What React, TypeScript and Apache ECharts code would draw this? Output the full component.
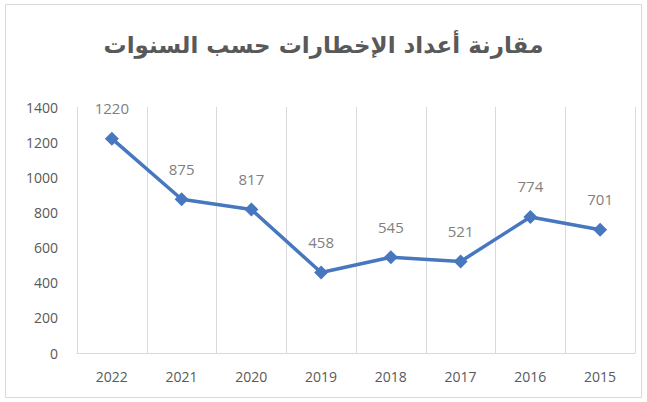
import React, { useEffect, useRef } from "react";
import * as echarts from "echarts";

const titleText = "مقارنة أعداد الإخطارات حسب السنوات";
const years = ["2022", "2021", "2020", "2019", "2018", "2017", "2016", "2015"];
const counts = [1220, 875, 817, 458, 545, 521, 774, 701];
const yMin = 0;
const yMax = 1400;
const yStep = 200;

export default function App() {
  const ref = useRef<HTMLDivElement>(null);
  useEffect(() => {
    document.body.style.margin = "0";
    const chart = echarts.init(ref.current!, null, { renderer: "svg" });
    chart.setOption({
      animation: false,
      backgroundColor: "#ffffff",
      title: {
        text: titleText,
        left: "center",
        top: 28,
        textStyle: {
          fontFamily: "DejaVu Sans",
          fontSize: 23,
          fontWeight: "bold",
          color: "#595959",
        },
      },
      graphic: [
        {
          type: "rect",
          shape: { x: 5.5, y: 4.5, width: 636, height: 393 },
          style: { fill: "none", stroke: "#d9d9d9", lineWidth: 1 },
          silent: true,
        },
      ],
      grid: { left: 77, right: 12, top: 107, bottom: 49 },
      xAxis: {
        type: "category",
        data: years,
        boundaryGap: true,
        axisLine: { show: true, lineStyle: { color: "#d9d9d9", width: 1 } },
        axisTick: { show: false },
        splitLine: { show: true, lineStyle: { color: "#d9d9d9", width: 1 } },
        axisLabel: {
          color: "#595959",
          fontSize: 14,
          fontFamily: "Open Sans",
          margin: 16,
        },
      },
      yAxis: {
        type: "value",
        min: yMin,
        max: yMax,
        interval: yStep,
        axisLine: { show: false },
        axisTick: { show: false },
        splitLine: { show: false },
        axisLabel: {
          color: "#595959",
          fontSize: 14,
          fontFamily: "Open Sans",
          margin: 19,
          formatter: (v: number) => String(v),
        },
      },
      series: [
        {
          type: "line",
          data: counts,
          symbol: "diamond",
          symbolSize: 14,
          lineStyle: { color: "#4677BF", width: 3.5 },
          itemStyle: { color: "#4677BF" },
          label: {
            show: true,
            position: "top",
            distance: 16,
            color: "#808080",
            fontSize: 15,
            fontFamily: "Open Sans",
          },
        },
      ],
    });
    return () => chart.dispose();
  }, []);
  return (
    <div
      ref={ref}
      style={{ position: "absolute", left: 0, top: 0, width: 647, height: 402 }}
    />
  );
}
